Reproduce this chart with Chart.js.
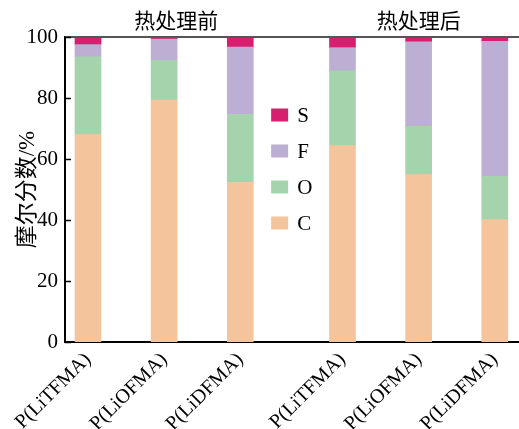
<!DOCTYPE html>
<html>
<head>
<meta charset="utf-8">
<script src="https://cdn.jsdelivr.net/npm/chart.js@4/dist/chart.umd.min.js"></script>
<style>
  html, body { margin: 0; padding: 0; background: #fff; }
  #wrap { width: 519px; height: 429px; }
</style>
</head>
<body>
<div id="wrap"><canvas id="c" width="519" height="429"></canvas></div>
<script>
// Samples, grouped by treatment state
const materials = ['P(LiTFMA)', 'P(LiOFMA)', 'P(LiDFMA)', 'P(LiTFMA)', 'P(LiOFMA)', 'P(LiDFMA)'];
const groups = ['热处理前', '热处理后'];
const elements = ['C', 'O', 'F', 'S'];

// Molar fraction (%) of each element
const valuesC = [68.0, 79.3, 52.3, 64.4, 54.9, 40.1];
const valuesO = [25.5, 13.0, 22.3, 24.5, 15.8, 14.2];
const valuesF = [4.0, 7.0, 22.1, 7.6, 27.7, 44.3];
const valuesS = [2.5, 0.7, 3.3, 3.5, 1.6, 1.4];

const yTicks = [0, 20, 40, 60, 80, 100];

const colors = {
  C: '#f4c59c',
  O: '#a5d3ab',
  F: '#bdaed3',
  S: '#d81f6f'
};

// Bars sit at integer slots; the second group is shifted by an extra gap
const GROUP_GAP = 0.342;
const PER_GROUP = 3;
const slot = i => i + (i >= PER_GROUP ? GROUP_GAP : 0);
const positions = materials.map((_, i) => slot(i));

const series = { C: valuesC, O: valuesO, F: valuesF, S: valuesS };
const datasets = elements.map(el => ({
  label: el,
  data: series[el].map((v, i) => ({ x: positions[i], y: v })),
  backgroundColor: colors[el],
  borderWidth: 0,
  barThickness: 26
}));

const SERIF = "'Liberation Serif', 'Noto Sans CJK SC', serif";

const decorations = {
  id: 'decorations',
  afterDraw(chart) {
    const { ctx, chartArea: a, scales } = chart;
    const ys = scales.y, xs = scales.x;
    ctx.save();

    // top frame line
    ctx.strokeStyle = '#555';
    ctx.lineWidth = 2;
    ctx.beginPath();
    ctx.moveTo(a.left, a.top);
    ctx.lineTo(a.right, a.top);
    ctx.stroke();

    // inward tick marks on the value axis
    ctx.strokeStyle = '#000';
    ctx.lineWidth = 1.5;
    yTicks.forEach(v => {
      const y = Math.round(ys.getPixelForValue(v)) + 0.5;
      ctx.beginPath();
      ctx.moveTo(a.left, y);
      ctx.lineTo(a.left + 6, y);
      ctx.stroke();
    });

    // group headings above each half
    ctx.fillStyle = '#000';
    ctx.font = "21px " + SERIF;
    ctx.textAlign = 'center';
    ctx.textBaseline = 'middle';
    const headingPos = [slot(1) + 0.16, slot(PER_GROUP + 1)];
    groups.forEach((g, k) => {
      ctx.fillText(g, xs.getPixelForValue(headingPos[k]), a.top - 15);
    });

    // legend inside the plot, between the two groups
    const lx = xs.getPixelForValue(2.405);
    const order = ['S', 'F', 'O', 'C'];
    ctx.textAlign = 'left';
    ctx.font = "21px " + SERIF;
    order.forEach((el, k) => {
      const cy = a.top + 78 + k * 36;
      ctx.fillStyle = colors[el];
      ctx.fillRect(lx, cy - 6.5, 17, 13);
      ctx.fillStyle = '#000';
      ctx.fillText(el, lx + 26, cy + 1);
    });

    ctx.restore();
  }
};

new Chart(document.getElementById('c'), {
  type: 'bar',
  data: { datasets },
  plugins: [decorations],
  options: {
    responsive: false,
    animation: false,
    layout: { padding: { top: 37, right: 0, left: 0, bottom: 0 } },
    plugins: {
      legend: { display: false },
      tooltip: { enabled: false }
    },
    scales: {
      x: {
        type: 'linear',
        offset: false,
        min: -0.302,
        max: 5.66,
        stacked: true,
        grid: { display: false, drawTicks: false, offset: false },
        border: { color: '#000', width: 2 },
        afterBuildTicks: s => { s.ticks = positions.map(v => ({ value: v })); },
        ticks: {
          autoSkip: false,
          minRotation: 45,
          maxRotation: 45,
          padding: 6,
          color: '#000',
          font: { family: SERIF, size: 20 },
          callback: (v, i) => materials[i]
        },
        afterFit: s => { s.height = 87; }
      },
      y: {
        min: 0,
        max: 100,
        stacked: true,
        grid: { display: false, drawTicks: false },
        border: { color: '#000', width: 2 },
        afterBuildTicks: s => { s.ticks = yTicks.map(v => ({ value: v })); },
        ticks: {
          padding: 7,
          color: '#000',
          font: { family: SERIF, size: 21 }
        },
        title: {
          display: true,
          text: '摩尔分数/%',
          color: '#000',
          font: { family: SERIF, size: 23 },
          padding: { top: 14, bottom: 0 }
        },
        afterFit: s => { s.width = 65; }
      }
    }
  }
});
</script>
</body>
</html>
